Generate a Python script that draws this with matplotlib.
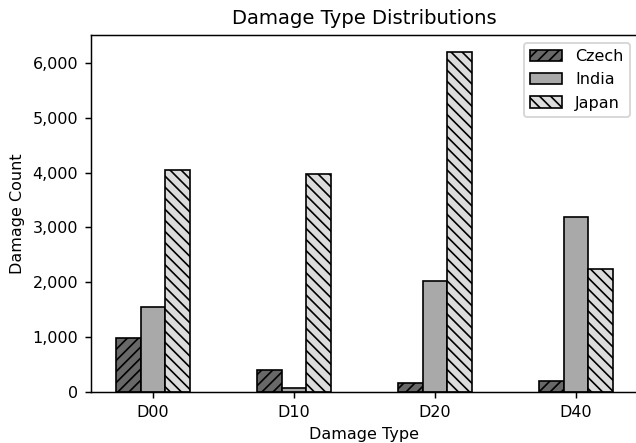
import numpy as np
from matplotlib import pyplot as plt
from matplotlib.ticker import FuncFormatter

damage_types = ["D00", "D10", "D20", "D40"]
countries = ["Czech", "India", "Japan"]
czech = [988, 399, 161, 197]
india = [1555, 68, 2021, 3187]
japan = [4049, 3979, 6199, 2243]

colors = ["#686868", "#a9a9a9", "#dcdcdc"]
hatches = ["////", "", "\\\\\\\\"]

dpi = 133
plt.rcParams["font.size"] = 8.7
plt.rcParams["hatch.linewidth"] = 0.9

fig = plt.figure(figsize=(636 / dpi, 443 / dpi), dpi=dpi)
# 오른쪽이 약간 잘린 원본 레이아웃에 맞춤
ax = fig.add_axes([91 / 636, 51 / 443, 547 / 636, 357 / 443])

bar_width = 0.175
index = np.arange(len(damage_types))
series = [czech, india, japan]

for i, values in enumerate(series):
    ax.bar(
        index + (i - 1) * bar_width,
        values,
        bar_width,
        color=colors[i],
        edgecolor="black",
        linewidth=0.9,
        hatch=hatches[i],
        label=countries[i],
    )

ax.set_xticks(index)
ax.set_xticklabels(damage_types)
ax.set_xlabel("Damage Type")
ax.set_ylabel("Damage Count")
ax.set_title("Damage Type Distributions", fontsize=10.6)
ax.yaxis.set_major_formatter(FuncFormatter(lambda v, p: f"{int(v):,}"))
ax.legend(loc="upper right")

plt.savefig("out.png", dpi=dpi)
plt.close()
